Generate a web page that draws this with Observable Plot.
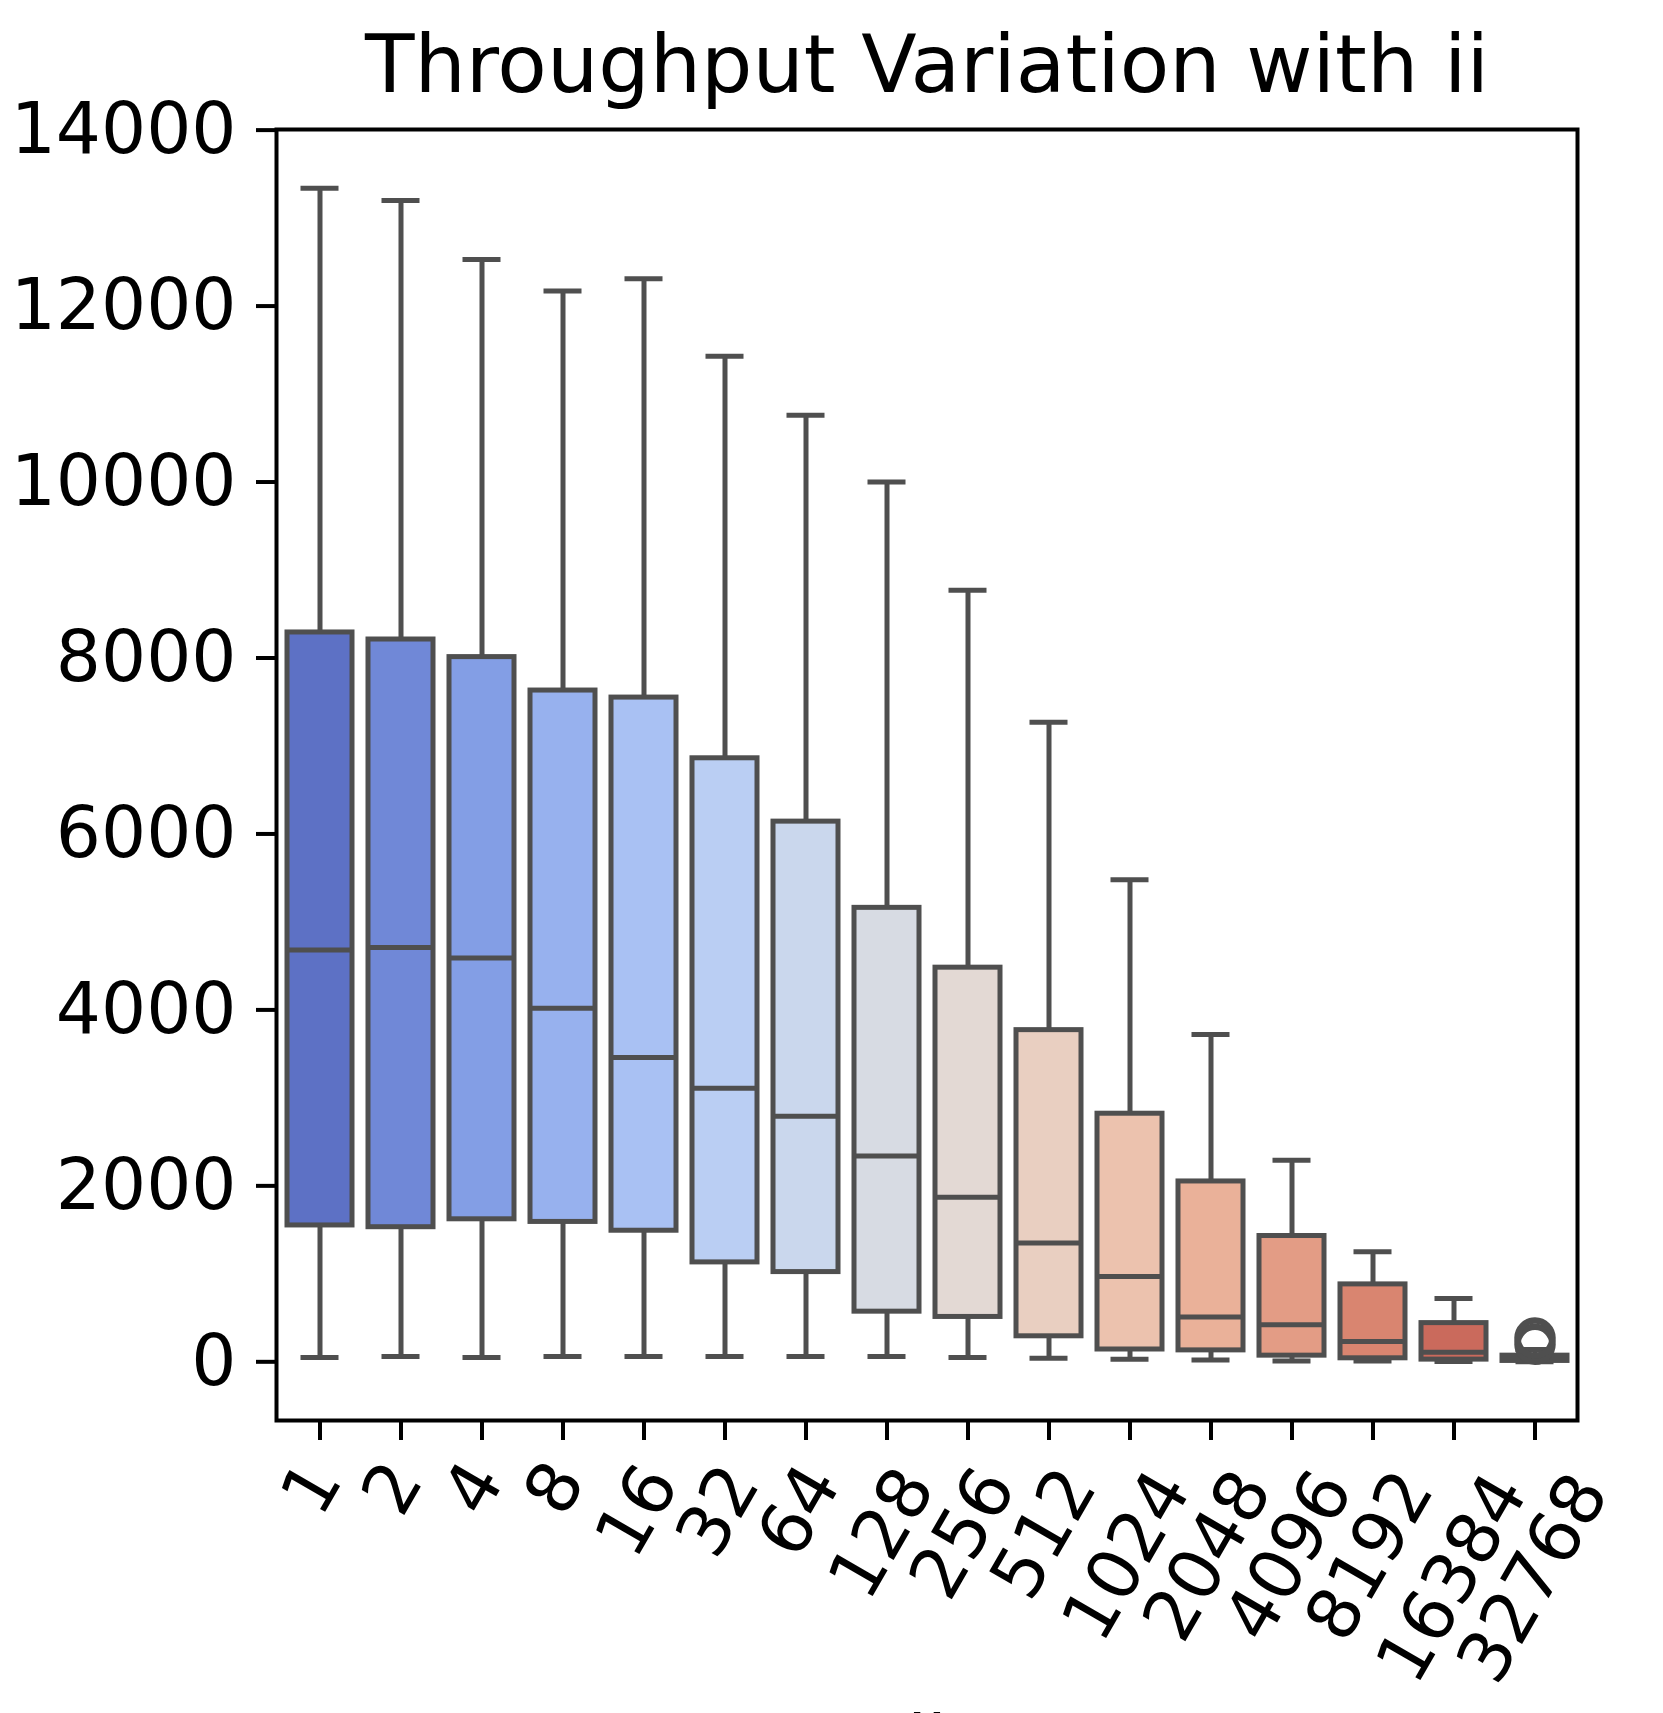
<!DOCTYPE html>
<html>
<head>
<meta charset="utf-8">
<script src="https://cdn.jsdelivr.net/npm/d3@7"></script>
<script src="https://cdn.jsdelivr.net/npm/@observablehq/plot@0.6"></script>
<style>
  html, body { margin: 0; padding: 0; background: #fff; overflow: hidden; }
  #chart svg { display: block; }
</style>
</head>
<body>
<div id="chart"></div>
<script>
// ---- data ----
const categories   = ["1","2","4","8","16","32","64","128","256","512","1024","2048","4096","8192","16384","32768"];
const whiskerLow   = [50, 60, 50, 60, 60, 60, 60, 60, 50, 40, 30, 20, 10, 10, 5, 2];
const q1Values     = [1550, 1530, 1620, 1590, 1490, 1130, 1020, 570, 510, 290, 140, 130, 70, 40, 25, 10];
const medianValues = [4680, 4710, 4590, 4020, 3460, 3110, 2790, 2340, 1870, 1350, 970, 510, 420, 230, 110, 30];
const q3Values     = [8290, 8210, 8010, 7630, 7550, 6860, 6140, 5160, 4480, 3770, 2820, 2050, 1430, 880, 440, 70];
const whiskerHigh  = [13340, 13200, 12530, 12170, 12310, 11430, 10760, 10000, 8770, 7270, 5480, 3720, 2290, 1250, 720, 140];
const outlierCats   = ["32768", "32768"];
const outlierValues = [200, 270];
const yTicks = [0, 2000, 4000, 6000, 8000, 10000, 12000, 14000];
const titleText = "Throughput Variation with ii";
const xLabel = "ii";

// ---- styles ----
const coolwarmKnots = [
  "rgb(59,76,192)","rgb(68,90,204)","rgb(77,104,215)","rgb(87,117,225)","rgb(98,130,234)",
  "rgb(108,142,241)","rgb(119,154,247)","rgb(130,165,251)","rgb(141,176,254)","rgb(152,185,255)",
  "rgb(163,194,255)","rgb(174,201,253)","rgb(184,208,249)","rgb(194,213,244)","rgb(204,217,238)",
  "rgb(213,219,230)","rgb(221,221,221)","rgb(229,216,209)","rgb(236,211,197)","rgb(241,204,184)",
  "rgb(245,196,172)","rgb(247,187,160)","rgb(247,177,148)","rgb(247,166,135)","rgb(244,154,123)",
  "rgb(241,141,111)","rgb(236,127,99)","rgb(229,112,88)","rgb(222,96,77)","rgb(213,80,66)",
  "rgb(203,62,56)","rgb(192,40,47)","rgb(180,4,38)"
];
const coolwarm = d3.piecewise(d3.interpolateRgb, coolwarmKnots);
const palette = categories.map((_, i) => {
  const c = d3.hsl(coolwarm((i + 1) / (categories.length + 1)));
  c.s *= 0.75;
  return c.formatHex();
});
const lineGray = "#4f4f4f";
const FS = 71;

const stats = categories.map((c, i) => ({
  cat: c, low: whiskerLow[i], q1: q1Values[i], med: medianValues[i], q3: q3Values[i], high: whiskerHigh[i]
}));
const outliers = outlierCats.map((c, i) => ({cat: c, v: outlierValues[i]}));

// rotated tick labels: matplotlib centres each rotated label's box under its tick,
// so the label centre moves down with the label length
const labelMarks = [1, 2, 3, 4, 5].map(n =>
  Plot.text(categories.filter(c => c.length === n), {
    x: d => d, frameAnchor: "bottom", rotate: -60,
    dx: 12 + (n - 1) * 1.6,
    dy: 60 + n * 0.636 * FS * 0.866 / 2 + (n - 1) * 2.9,
    fontSize: FS, fill: "black"
  })
);

const chart = Plot.plot({
  width: 1663,
  height: 1713,
  marginLeft: 276,
  marginRight: 86,
  marginTop: 129,
  marginBottom: 293,
  style: {fontFamily: "DejaVu Sans", fontSize: FS + "px", background: "white", color: "black"},
  x: {type: "band", domain: categories, paddingInner: 0.2, paddingOuter: 0.1, label: null},
  y: {domain: [-667, 14007], label: null},
  color: {type: "ordinal", domain: categories, range: palette},
  marks: [
    Plot.ruleX(stats, {x: "cat", y1: "low", y2: "q1", stroke: lineGray, strokeWidth: 5}),
    Plot.ruleX(stats, {x: "cat", y1: "q3", y2: "high", stroke: lineGray, strokeWidth: 5}),
    Plot.tickY(stats, {x: "cat", y: "low", insetLeft: 16, insetRight: 16, stroke: lineGray, strokeWidth: 5, strokeLinecap: "square"}),
    Plot.tickY(stats, {x: "cat", y: "high", insetLeft: 16, insetRight: 16, stroke: lineGray, strokeWidth: 5, strokeLinecap: "square"}),
    Plot.barY(stats, {x: "cat", y1: "q1", y2: "q3", fill: "cat", stroke: lineGray, strokeWidth: 5}),
    Plot.tickY(stats, {x: "cat", y: "med", stroke: lineGray, strokeWidth: 5}),
    Plot.dot(outliers, {x: "cat", y: "v", r: 17.5, stroke: lineGray, strokeWidth: 6.5, fill: "none"}),
    Plot.frame({stroke: "black", strokeWidth: 4}),
    Plot.axisY({ticks: yTicks, tickSize: 20, tickPadding: 20, tickFormat: d3.format("d"), strokeWidth: 4, fontSize: FS, label: null}),
    Plot.axisX({tickSize: 20, tickFormat: () => "", strokeWidth: 4, label: null}),
    ...labelMarks,
    Plot.text([titleText], {frameAnchor: "top", dy: -37.5, lineAnchor: "bottom", fontSize: 81, fill: "black"}),
    Plot.text([xLabel], {frameAnchor: "bottom", dy: 345, lineAnchor: "bottom", fontSize: FS, fill: "black"})
  ]
});
document.getElementById("chart").appendChild(chart);
</script>
</body>
</html>
